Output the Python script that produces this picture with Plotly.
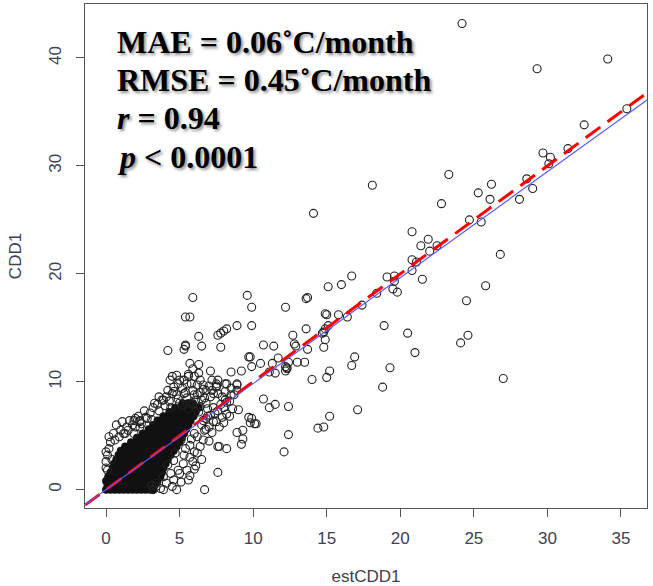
import plotly.graph_objects as go

# Individual (estimated, observed) CDD1 pairs outside the dense low-value cluster
scatter_pairs = [
    (24.2, 43.2), (29.3, 39.0), (34.1, 39.9), (32.5, 33.8), (35.4, 35.3), (31.4, 31.6),
    (29.7, 31.2), (30.2, 30.8), (30.1, 30.2), (28.6, 28.8), (29.0, 27.9), (18.1, 28.2),
    (23.3, 29.2), (26.2, 28.3), (25.3, 27.5), (26.1, 26.9), (28.1, 26.9), (22.8, 26.5),
    (24.7, 25.0), (25.5, 24.8), (26.8, 21.8), (25.8, 18.9), (24.5, 17.5),
    (20.8, 23.9), (21.9, 23.2), (21.4, 22.6), (22.5, 22.6), (22.0, 22.1), (20.8, 21.3),
    (21.1, 21.1), (20.8, 20.3), (21.5, 19.5), (19.1, 19.7), (19.6, 19.8), (19.6, 19.3),
    (19.5, 18.6), (19.8, 18.3), (18.9, 15.2), (20.5, 14.5), (21.0, 12.7), (24.1, 13.6),
    (24.6, 14.3), (19.3, 11.3), (27.0, 10.3),
    (14.1, 25.6), (18.4, 18.2), (16.7, 19.8), (16.0, 19.0), (15.1, 18.8), (13.6, 17.7),
    (13.7, 17.8), (5.9, 17.8), (9.6, 18.0), (9.9, 16.9), (12.2, 16.9), (17.4, 17.1),
    (5.4, 16.0), (5.7, 16.0), (8.9, 15.2), (9.9, 15.2), (14.9, 16.3), (15.0, 16.2),
    (15.8, 16.2), (16.4, 16.0), (13.6, 14.9), (15.1, 15.2), (14.9, 14.9), (14.8, 14.6),
    (14.7, 14.5), (14.9, 13.9), (14.8, 13.2), (12.7, 14.3), (12.8, 13.5), (12.9, 13.3),
    (13.7, 13.0), (12.4, 11.8), (13.0, 11.8), (13.5, 11.8), (12.3, 11.3), (11.4, 13.3),
    (10.7, 13.4), (11.7, 12.2), (11.3, 11.7), (11.5, 10.8), (10.5, 11.7), (9.7, 12.3),
    (9.8, 12.3), (9.9, 11.4), (9.2, 11.0), (8.5, 10.9), (7.8, 13.2), (7.6, 14.3),
    (8.0, 14.7), (8.2, 14.9), (7.8, 14.5), (6.5, 13.3), (6.3, 14.2), (5.4, 13.3),
    (5.3, 13.0), (5.4, 13.4), (4.2, 12.9), (5.7, 11.7), (6.3, 11.6), (5.9, 11.2),
    (7.1, 11.0), (5.6, 10.7), (6.3, 10.8), (4.5, 10.5), (4.8, 10.6), (16.9, 12.3),
    (16.7, 11.5), (15.2, 11.0), (15.0, 10.4), (14.0, 10.2), (12.2, 11.4), (12.3, 11.2),
    (12.2, 11.0), (11.1, 10.9),
    (18.8, 9.5), (10.7, 8.4), (11.1, 7.6), (11.5, 7.9), (12.4, 7.7), (15.2, 6.8),
    (17.1, 7.4), (9.9, 6.6), (10.1, 6.1), (9.8, 6.2), (10.2, 6.1), (9.7, 6.7),
    (14.4, 5.7), (14.8, 5.8), (12.4, 5.1), (12.1, 3.5),
    (9.0, 7.4), (8.9, 5.3), (9.3, 5.5), (9.3, 4.7), (9.2, 4.2), (7.6, 4.0), (7.7, 4.0),
    (8.2, 3.8), (7.6, 1.6), (6.7, 0.0), (4.8, 0.0), (5.1, 0.7), (5.7, 1.3), (6.8, 5.6),
    (7.2, 5.3), (7.5, 6.3), (7.9, 6.7), (8.2, 7.0), (8.2, 9.8), (8.9, 9.7), (8.1, 8.3),
    (8.2, 8.1), (7.2, 9.2), (7.5, 9.5), (8.7, 8.8),
    (0.5, 5.2), (0.7, 6.0), (1.0, 5.5), (1.3, 5.2), (2.3, 6.4), (2.7, 6.7), (3.0, 7.1),
    (2.4, 6.1), (3.9, 8.3), (4.1, 8.6), (4.6, 9.1), (4.8, 8.8), (5.3, 8.9), (6.0, 8.8),
    (6.4, 9.0), (6.7, 8.5), (7.1, 8.6), (6.7, 5.5), (7.0, 5.8), (7.3, 6.3), (6.0, 5.2),
    (5.8, 4.7), (5.7, 4.1), (5.1, 4.6), (5.4, 3.8), (4.7, 3.4), (4.6, 2.7), (4.9, 1.8),
    (4.2, 2.3), (3.9, 1.2), (3.4, 0.6), (3.7, 0.1), (3.1, 0.4),
    (4.35, 10.15), (4.6, 9.5), (5.3, 10.15), (5.6, 10.5), (6.0, 10.5), (5.8, 9.8),
    (6.4, 10.15), (6.6, 9.7), (7.2, 10.15), (7.6, 10.15), (7.5, 9.6), (8.1, 9.8),
    (8.5, 9.4), (8.9, 9.8),
    (1.2, 5.2), (1.9, 5.2), (1.4, 5.8), (2.3, 5.8), (2.3, 6.3), (2.8, 6.6), (3.8, 8.3),
    (4.5, 8.9), (5.0, 8.0), (5.5, 8.5), (5.7, 8.0), (6.2, 8.8), (6.5, 8.3), (6.4, 7.7),
    (6.8, 8.0), (7.3, 8.9), (5.0, 10.15), (5.5, 9.8), (6.2, 9.7), (6.8, 9.2), (7.5, 9.8),
    (6.2, 4.9), (6.4, 4.0), (5.7, 3.0), (5.25, 2.4), (5.0, 1.5), (4.6, 0.9), (4.1, 0.6),
    (3.4, 0.3), (3.9, 0.0), (3.2, 0.0), (6.6, 6.4), (7.1, 6.9), (7.6, 8.9), (8.1, 9.1),
    (8.5, 8.8), (8.9, 9.2),
    (0.0, 2.0), (0.0, 2.6), (0.1, 3.2), (0.2, 3.8), (0.3, 4.4), (0.1, 1.8), (0.4, 2.8),
    (0.6, 4.6), (0.9, 4.9), (1.5, 5.5), (1.8, 6.0), (2.0, 5.8), (2.2, 6.8), (1.9, 6.4),
    (0.0, 3.5), (0.2, 4.9), (1.1, 6.3), (6.0, 3.5), (6.5, 2.8), (7.0, 4.5), (6.1, 2.2),
    (3.2, 7.6), (3.5, 7.9), (3.6, 7.3), (4.0, 7.8), (4.3, 8.2), (4.4, 7.6), (4.9, 8.4),
    (5.2, 7.8), (5.6, 7.5), (5.9, 7.9), (6.1, 8.3), (6.3, 7.2), (5.9, 9.2), (5.2, 9.4),
    (4.9, 9.8), (6.9, 7.5), (7.3, 7.6), (7.6, 7.3), (6.9, 6.8), (6.5, 6.0), (6.8, 6.6),
    (7.7, 5.8), (8.0, 6.2), (8.4, 6.8), (8.6, 7.5), (8.0, 7.6), (7.4, 7.1), (2.6, 7.3),
    (3.3, 8.0), (3.1, 6.5), (2.0, 6.6), (1.6, 6.4), (5.3, 3.2), (5.9, 2.6), (6.2, 3.4),
    (6.6, 4.6), (6.0, 1.9), (5.5, 1.8), (4.4, 1.5), (4.5, 0.3), (5.6, 0.9), (3.6, 8.6),
    (4.2, 9.2), (5.4, 9.0), (6.6, 9.3), (7.0, 9.6), (7.9, 8.6), (8.4, 8.2), (7.8, 7.9),
]

# Dense cluster of small values: observed CDD1 per row and the estimates in that row
core_cdd1 = [0.0, 0.4, 0.8, 1.2, 1.6, 2.0, 2.4, 2.8, 3.2, 3.6,
             4.0, 4.4, 4.8, 5.2, 5.6, 6.0, 6.4, 6.8, 7.2, 7.6, 8.0]
core_est = [
    [0.0, 0.3, 0.6, 0.9, 1.2, 1.5, 1.8, 2.1, 2.4, 2.7, 3.0, 3.2],
    [0.1, 0.45, 0.8, 1.15, 1.5, 1.85, 2.2, 2.55, 2.9, 3.3],
    [0.0, 0.3, 0.65, 1.0, 1.35, 1.7, 2.05, 2.4, 2.75, 3.1, 3.5],
    [0.15, 0.5, 0.85, 1.2, 1.55, 1.9, 2.25, 2.6, 2.95, 3.3, 3.7],
    [0.3, 0.65, 1.0, 1.35, 1.7, 2.05, 2.4, 2.75, 3.1, 3.45, 3.8],
    [0.45, 0.8, 1.15, 1.5, 1.85, 2.2, 2.55, 2.9, 3.25, 3.6, 3.9],
    [0.55, 0.9, 1.25, 1.6, 1.95, 2.3, 2.65, 3.0, 3.35, 3.7, 4.05],
    [0.7, 1.05, 1.4, 1.75, 2.1, 2.45, 2.8, 3.15, 3.5, 3.85, 4.2],
    [0.85, 1.2, 1.55, 1.9, 2.25, 2.6, 2.95, 3.3, 3.65, 4.0, 4.4],
    [1.0, 1.35, 1.7, 2.05, 2.4, 2.75, 3.1, 3.45, 3.8, 4.15, 4.6],
    [1.3, 1.65, 2.0, 2.35, 2.7, 3.05, 3.4, 3.75, 4.1, 4.45, 4.8],
    [1.7, 2.05, 2.4, 2.75, 3.1, 3.45, 3.8, 4.15, 4.5, 5.0],
    [2.1, 2.45, 2.8, 3.15, 3.5, 3.85, 4.2, 4.55, 4.85, 5.15],
    [2.5, 2.85, 3.2, 3.55, 3.9, 4.25, 4.6, 4.95, 5.3],
    [2.9, 3.25, 3.6, 3.95, 4.3, 4.65, 5.0, 5.45],
    [3.2, 3.55, 3.9, 4.25, 4.6, 4.95, 5.3, 5.6],
    [3.5, 3.85, 4.2, 4.55, 4.9, 5.25, 5.75],
    [3.9, 4.25, 4.6, 4.95, 5.3, 5.6, 5.95],
    [4.3, 4.65, 5.0, 5.35, 5.7, 6.1],
    [4.7, 5.05, 5.4, 5.75, 6.3],
    [5.2, 5.55, 5.9],
]

# Reference lines: 1:1 line and fitted regression line
identity_intercept, identity_slope = 0.0, 1.0
fit_intercept, fit_slope = 0.0, 0.982

x_ticks = [0, 5, 10, 15, 20, 25, 30, 35]
y_ticks = [0, 10, 20, 30, 40]
x_range = [-1.43, 36.77]
y_range = [-1.7, 45.0]

stats_lines = [
    "<b>MAE = 0.06˚C/month</b>",
    "<b>RMSE = 0.45˚C/month</b>",
    "<b><i>r</i> = 0.94</b>",
    "<b><i>p</i> < 0.0001</b>",
]

est_open = [p[0] for p in scatter_pairs]
obs_open = [p[1] for p in scatter_pairs]
est_core = [x for row in core_est for x in row]
obs_core = [y for y, row in zip(core_cdd1, core_est) for _ in row]

fig = go.Figure()

fig.add_trace(go.Scatter(
    x=est_core, y=obs_core, mode="markers", hoverinfo="skip",
    marker=dict(symbol="circle", size=8, color="#111111", line=dict(width=0)),
))
fig.add_trace(go.Scatter(
    x=est_open, y=obs_open, mode="markers",
    marker=dict(symbol="circle-open", size=8, color="#222222", line=dict(width=1.1)),
))

line_x = list(x_range)
fig.add_trace(go.Scatter(
    x=line_x, y=[identity_intercept + identity_slope * v for v in line_x],
    mode="lines", line=dict(color="#ff0000", width=3, dash="18px,9px"),
))
fig.add_trace(go.Scatter(
    x=line_x, y=[fit_intercept + fit_slope * v for v in line_x],
    mode="lines", line=dict(color="#5a5aff", width=1.2),
))

L, R, T, B = 85, 6, 4, 78
W, H = 653, 586
plot_h = H - T - B
plot_w = W - L - R


def paper_x(px):
    return (px - L) / plot_w


def paper_y(py):
    return 1 - (py - T) / plot_h


text_centres = [42.3, 79.7, 118.5, 156.5]
for txt, cy in zip(stats_lines, text_centres):
    fig.add_annotation(
        text=txt, xref="paper", yref="paper",
        x=paper_x(115), y=paper_y(cy), xanchor="left", yanchor="middle",
        showarrow=False,
        font=dict(family="Liberation Serif", size=32, color="black",
                  shadow="2px 2px 3px rgba(0,0,0,0.45)"),
    )

label_font = dict(family="Liberation Sans", size=17, color="#3c4250")
axis_common = dict(
    showgrid=False, zeroline=False, showline=True, mirror=True,
    linecolor="#555555", linewidth=1.3, ticks="outside", ticklen=8,
    tickcolor="#555555", tickwidth=1.3, tickfont=label_font, automargin=False,
)

fig.update_layout(
    width=W, height=H, margin=dict(l=L, r=R, t=T, b=B),
    paper_bgcolor="white", plot_bgcolor="white", showlegend=False,
    xaxis=dict(range=x_range, tickvals=x_ticks, ticklabelstandoff=6, **axis_common,
               title=dict(text="estCDD1", standoff=25, font=label_font)),
    yaxis=dict(range=y_range, tickvals=y_ticks, tickangle=-90, ticklabelstandoff=8,
               **axis_common,
               title=dict(text="CDD1", standoff=20, font=label_font)),
)

fig.write_html("out.html")
